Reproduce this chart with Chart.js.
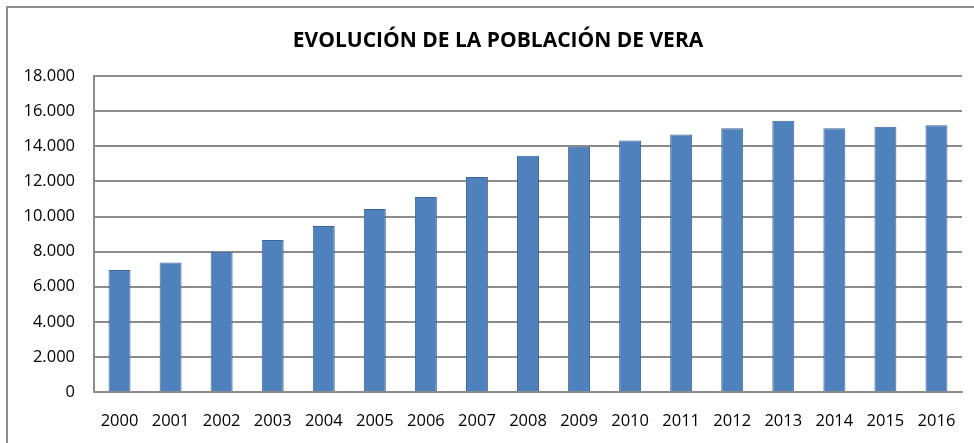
<!DOCTYPE html>
<html lang="es">
<head>
  <meta charset="UTF-8">
  <title>Evolución de la población de Vera</title>
  <script src="https://cdn.jsdelivr.net/npm/chart.js"></script>
  <style>
    html, body { margin: 0; padding: 0; background: #fff; overflow: hidden; }
    #wrap { position: relative; width: 974px; height: 443px; overflow: hidden; }
    #marco {
      position: absolute; left: 6px; top: 6px; width: 990px; height: 450px;
      border-left: 2px solid #8e8e8e; border-top: 2px solid #8e8e8e;
      box-sizing: border-box; pointer-events: none;
    }
    canvas { position: absolute; left: 0; top: 0; }
  </style>
</head>
<body>
  <div id="wrap">
    <canvas id="grafico" width="996" height="443"></canvas>
    <div id="marco"></div>
  </div>

  <script>
    // años y habitantes
    const anios = ['2000', '2001', '2002', '2003', '2004', '2005', '2006', '2007', '2008',
                   '2009', '2010', '2011', '2012', '2013', '2014', '2015', '2016'];
    const poblacion = [6950, 7380, 7990, 8660, 9460, 10430, 11110, 12250, 13470,
                       13980, 14340, 14680, 15030, 15460, 15030, 15120, 15210];

    const fuente = "'Open Sans', 'DejaVu Sans', sans-serif";

    // formato con punto de miles: 18.000
    function miles(v) {
      return v.toString().replace(/\B(?=(\d{3})+(?!\d))/g, '.');
    }

    const ctx = document.getElementById('grafico').getContext('2d');
    new Chart(ctx, {
      type: 'bar',
      data: {
        labels: anios,
        datasets: [{
          label: 'Población',
          data: poblacion,
          backgroundColor: '#4f81bd',
          borderColor: '#3c6799',
          borderWidth: 1,
          borderSkipped: 'bottom',
          categoryPercentage: 1,
          barPercentage: 0.43
        }]
      },
      options: {
        responsive: false,
        animation: false,
        layout: { padding: 0 },
        plugins: {
          legend: { display: false },
          tooltip: { enabled: false },
          title: {
            display: true,
            text: 'EVOLUCIÓN DE LA POBLACIÓN DE VERA',
            color: '#000',
            font: { family: fuente, size: 21, weight: 'bold' },
            padding: { top: 28, bottom: 23 }
          }
        },
        scales: {
          x: {
            grid: { display: false, drawTicks: false },
            border: { color: '#8c8c8c', width: 2 },
            ticks: {
              color: '#000',
              font: { family: fuente, size: 16.5 },
              padding: 19,
              maxRotation: 0,
              autoSkip: false
            },
            afterFit: function (scale) { scale.height = 51; }
          },
          y: {
            min: 0,
            max: 18000,
            grid: { color: '#8c8c8c', lineWidth: 2, drawTicks: false },
            border: { color: '#8c8c8c', width: 2 },
            ticks: {
              stepSize: 2000,
              color: '#000',
              font: { family: fuente, size: 16.5 },
              padding: 19,
              callback: function (v) { return miles(v); }
            },
            afterFit: function (scale) { scale.width = 94; }
          },
          // eje vacío a la derecha: deja el margen del marco
          margen: {
            position: 'right',
            grid: { display: false, drawTicks: false },
            border: { display: false },
            ticks: { display: false },
            afterFit: function (scale) { scale.width = 34; }
          }
        }
      }
    });
  </script>
</body>
</html>
